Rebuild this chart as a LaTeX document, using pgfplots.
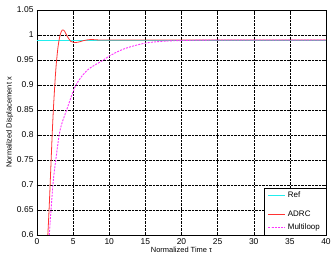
\documentclass[border=0pt]{standalone}
\usepackage{fontspec}
\setmainfont{Liberation Sans}
\usepackage{pgfplots}
\pgfplotsset{compat=1.18}
\definecolor{refc}{HTML}{22EEEE}
\definecolor{adrc}{HTML}{FF3333}
\definecolor{mloop}{HTML}{FF33FF}
\begin{document}
\begin{tikzpicture}
\begin{axis}[
  scale only axis, width=289bp, height=225bp,
  xmin=0, xmax=40, ymin=0.6, ymax=1.05,
  xtick={0,5,...,40},
  ytick={0.6,0.65,0.7,0.75,0.8,0.85,0.9,0.95,1,1.05},
  yticklabels={0.6,0.65,0.7,0.75,0.8,0.85,0.9,0.95,1,1.05},
  /pgf/number format/assume math mode=true,
  tick label style={font=\fontsize{8.5}{10}\selectfont},
  label style={font=\fontsize{7.5}{9}\selectfont},
  xlabel={Normalized Time τ},
  ylabel={Normalized Displacement x},
  xlabel style={yshift=4pt},
  ylabel style={yshift=-3pt},
  tick align=inside, tick style={black, thin},
  major tick length=3pt,
  grid=major, major grid style={black, densely dotted, line width=0.5pt},
  axis line style={black},
  legend style={at={(rel axis cs:1,0)}, anchor=south east, draw=black, fill=white,
    font=\fontsize{8}{9}\selectfont, row sep=1.2pt, inner xsep=4pt, inner ysep=2pt,
    cells={anchor=west}},
  legend cell align=left,
]
\addplot[refc, line width=0.9pt] coordinates {(0,0.99) (40,0.99)};
\addlegendentry{Ref}
\addplot[white, line width=0.8pt] coordinates {(0,0.99)};
\addlegendentry{}
\addplot[adrc, line width=0.8pt, smooth, tension=0.5] coordinates {
(1.5,0.6) (1.7,0.66) (1.9,0.73) (2.1,0.8) (2.3,0.86) (2.6,0.93) (2.9,0.975)
(3.2,1.0) (3.5,1.01) (3.8,1.008) (4.2,0.997) (4.7,0.987) (5.2,0.985) (5.8,0.986)
(6.5,0.989) (7.5,0.991) (9,0.99) (15,0.99) (25,0.99) (40,0.99)};
\addlegendentry{ADRC}
\addplot[mloop, line width=0.9pt, dash pattern=on 2pt off 1.2pt, smooth, tension=0.5] coordinates {
(1.7,0.6) (2.2,0.7) (2.6,0.75) (3.2,0.81) (4.1,0.85) (5.4,0.9) (7,0.93)
(9.2,0.95) (10,0.958) (12,0.972) (14.7,0.983) (17,0.987) (20,0.989) (25,0.99) (40,0.99)};
\addlegendentry{Multiloop}
\end{axis}
\pgfresetboundingbox
\path (-37bp,-29bp) rectangle (295bp,235bp);
\end{tikzpicture}
\end{document}
